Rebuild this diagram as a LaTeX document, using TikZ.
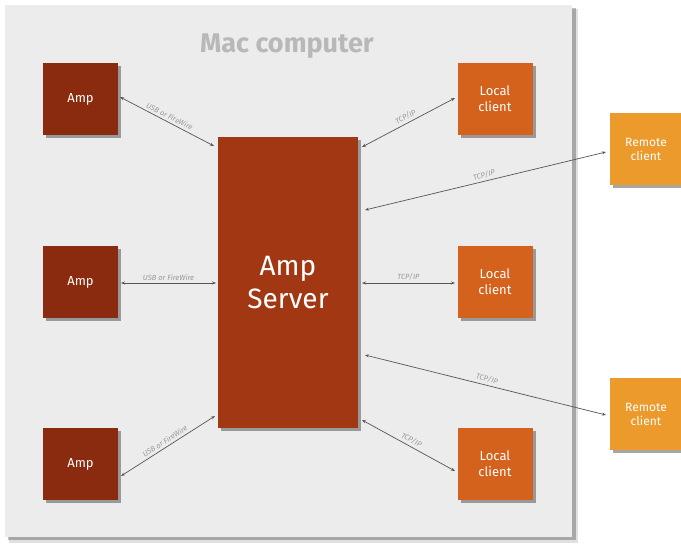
\documentclass[tikz,border=0pt]{standalone}
\usepackage{fontspec}
\setmainfont{Fira Sans}
\usetikzlibrary{shadows,arrows.meta}
\definecolor{panel}{HTML}{ECECEC}
\definecolor{ampc}{HTML}{8A2A0E}
\definecolor{serverc}{HTML}{A23813}
\definecolor{localc}{HTML}{D4611C}
\definecolor{remotec}{HTML}{EC9A2B}
\definecolor{titlec}{HTML}{B8B8B8}
\definecolor{labelc}{HTML}{9A9A9A}
\definecolor{linec}{HTML}{555555}
\tikzset{
  box/.style={draw=none, minimum width=75pt, minimum height=72pt, text=white, align=center, inner sep=0pt,
    drop shadow={shadow xshift=3pt, shadow yshift=-3pt, opacity=0.35, fill=black}},
  ampbox/.style={box, fill=ampc, font=\fontsize{13}{15}\selectfont},
  localbox/.style={box, fill=localc, font=\fontsize{13}{16}\selectfont},
  remotebox/.style={box, fill=remotec, minimum width=72pt, font=\fontsize{12}{14}\selectfont},
  conn/.style={draw=linec, line width=0.7pt, {Stealth[length=4pt,width=3pt]}-{Stealth[length=4pt,width=3pt]}},
  lbl/.style={text=labelc, font=\fontsize{7.5}{8}\selectfont\itshape, sloped, above, inner sep=2.5pt}
}
\begin{document}
\begin{tikzpicture}[x=1pt,y=-1pt]
\useasboundingbox (0,0) rectangle (681,547);
\fill[white] (0,0) rectangle (681,547);
% panel
\fill[black, opacity=0.12] (9,9) rectangle (578,543);
\fill[black, opacity=0.25] (8,8) rectangle (576,540);
\fill[panel] (5,5) rectangle (572,537);
\node[text=titlec, font=\fontsize{27}{30}\selectfont\bfseries] (title) at (287,46) {Mac computer};
% nodes
\node[ampbox] (amp1) at (80.5,99) {Amp};
\node[ampbox] (amp2) at (80.5,282) {Amp};
\node[ampbox] (amp3) at (80.5,464) {Amp};
\node[box, fill=serverc, minimum width=140pt, minimum height=291pt, font=\fontsize{28}{33}\selectfont] (server) at (288,282.5) {Amp\\Server};
\node[localbox] (loc1) at (495,99) {Local\\client};
\node[localbox] (loc2) at (495,282) {Local\\client};
\node[localbox] (loc3) at (495,464) {Local\\client};
\node[remotebox] (rem1) at (646,149) {Remote\\client};
\node[remotebox] (rem2) at (646,414) {Remote\\client};
% connector end points
\coordinate (s1) at (214,146);
\coordinate (s2) at (216,283);
\coordinate (s3) at (215,416);
\coordinate (s4) at (362,147);
\coordinate (s5) at (362,283);
\coordinate (s6) at (362,420);
\coordinate (s7) at (365,210);
\coordinate (s8) at (365,355);
\coordinate (a1) at (120,97);
\coordinate (a2) at (121,283);
\coordinate (a3) at (121,476);
\coordinate (l1) at (455,98);
\coordinate (l2) at (455,283);
\coordinate (l3) at (455,471);
\coordinate (r1) at (606,152);
\coordinate (r2) at (606,415);
\draw[conn] (a1) -- node[lbl] {USB or FireWire} (s1);
\draw[conn] (a2) -- node[lbl] {USB or FireWire} (s2);
\draw[conn] (a3) -- node[lbl] {USB or FireWire} (s3);
\draw[conn] (s4) -- node[lbl] {TCP/IP} (l1);
\draw[conn] (s5) -- node[lbl] {TCP/IP} (l2);
\draw[conn] (s6) -- node[lbl] {TCP/IP} (l3);
\draw[conn] (s7) -- node[lbl] {TCP/IP} (r1);
\draw[conn] (s8) -- node[lbl] {TCP/IP} (r2);
\end{tikzpicture}
\end{document}
